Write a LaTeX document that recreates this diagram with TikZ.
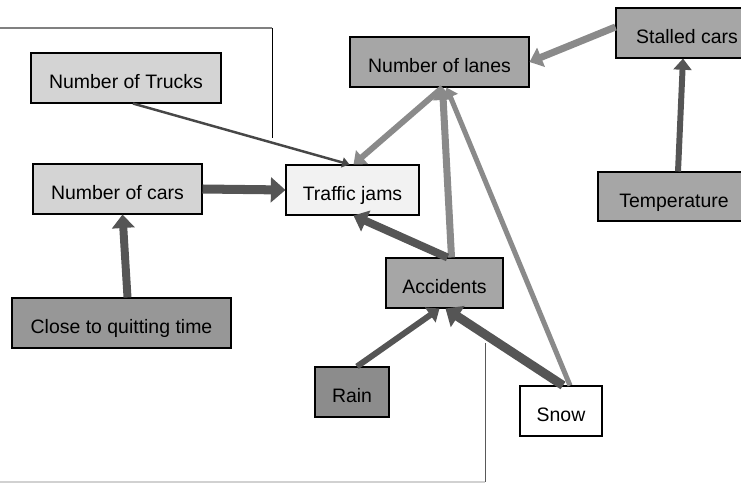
\documentclass[tikz,border=0pt]{standalone}
\usepackage{fontspec}
\setmainfont{Liberation Sans}
\usetikzlibrary{arrows.meta,calc}
\definecolor{palebox}{HTML}{D4D4D4}
\definecolor{whitebox}{HTML}{F2F2F2}
\definecolor{midbox}{HTML}{A6A6A6}
\definecolor{darkbox}{HTML}{979797}
\definecolor{rainbox}{HTML}{8C8C8C}
\definecolor{darklink}{HTML}{555555}
\definecolor{greylink}{HTML}{8A8A8A}
\begin{document}
\begin{tikzpicture}[x=0.03cm,y=-0.03cm,
    factor/.style={draw=black,line width=0.9pt,minimum height=1.5cm,inner sep=0pt,
        text height=18pt,text depth=0pt,font=\fontsize{16.6}{18}\selectfont},
    link/.style={-{Triangle[length=4pt 1.1,width=4pt 2.2]}},
    darkarrow/.style={link,draw=darklink,fill=darklink},
    greyarrow/.style={link,draw=greylink,fill=greylink}]
            \useasboundingbox (0,0) rectangle (741,483);

            %frame pieces
            \draw[line width=1.2pt,color=gray] (0,28)--(272,28);
            \draw[line width=0.7pt] (272,28)--(272,138);
            \draw[line width=1pt,color=black!18] (0,482)--(485,482);
            \draw[line width=0.7pt,color=black!65] (485,343)--(485,482);

            %factors
            \node[factor,fill=palebox,minimum width=5.7cm] (trucks) at (126,78) {Number of Trucks};
            \node[factor,fill=palebox,minimum width=5.07cm] (cars) at (117.5,189) {Number of cars};
            \node[factor,fill=whitebox,minimum width=3.99cm] (jams) at (352.5,190) {Traffic jams};
            \node[factor,fill=midbox,minimum width=5.37cm] (lanes) at (439.5,62) {Number of lanes};
            \node[factor,fill=midbox,minimum width=4.26cm] (stalled) at (687,33) {Stalled cars};
            \node[factor,fill=midbox,minimum width=4.56cm,minimum height=1.47cm] (temp) at (674,196.5) {Temperature};
            \node[factor,fill=midbox,minimum width=3.51cm] (accidents) at (444.5,283) {Accidents};
            \node[factor,fill=darkbox,minimum width=6.57cm] (quitting) at (121.5,323) {Close to quitting time};
            \node[factor,fill=rainbox,minimum width=2.22cm] (rain) at (352,392) {Rain};
            \node[factor,fill=white,minimum width=2.46cm] (snow) at (561,411) {Snow};

            %links
            \draw[link,line width=2.1pt,draw=black!72,fill=black!72] ($(trucks.south)+(7,0)$) -- ($(jams.north)+(-3,0)$);
            \draw[darkarrow,line width=7.7pt] (cars.east) -- (jams.west);
            \draw[darkarrow,line width=6.8pt] ($(quitting.north)+(6,0)$) -- ($(cars.south)+(5,0)$);
            \draw[greyarrow,line width=5.1pt] ($(lanes.south)+(3,0)$) -- ($(jams.north)+(1,0)$);
            \draw[greyarrow,line width=6pt] ($(stalled.west)+(0,-6)$) -- (lanes.east);
            \draw[darkarrow,line width=5.1pt] ($(temp.north)+(4,0)$) -- ($(stalled.south)+(-4,0)$);
            \draw[greyarrow,line width=6pt] ($(accidents.north)+(7,0)$) -- ($(lanes.south)+(3,0)$);
            \draw[greyarrow,line width=4.3pt] ($(snow.north)+(9,0)$) -- ($(lanes.south)+(7,0)$);
            \draw[darkarrow,line width=6.8pt] ($(accidents.north)+(3,0)$) -- ($(jams.south)+(1,0)$);
            \draw[darkarrow,line width=5.1pt] ($(rain.north)+(5,0)$) -- ($(accidents.south)+(-5,0)$);
            \draw[darkarrow,line width=7.7pt] ($(snow.north)+(2,0)$) -- ($(accidents.south)+(1,0)$);
        \end{tikzpicture}
\end{document}
